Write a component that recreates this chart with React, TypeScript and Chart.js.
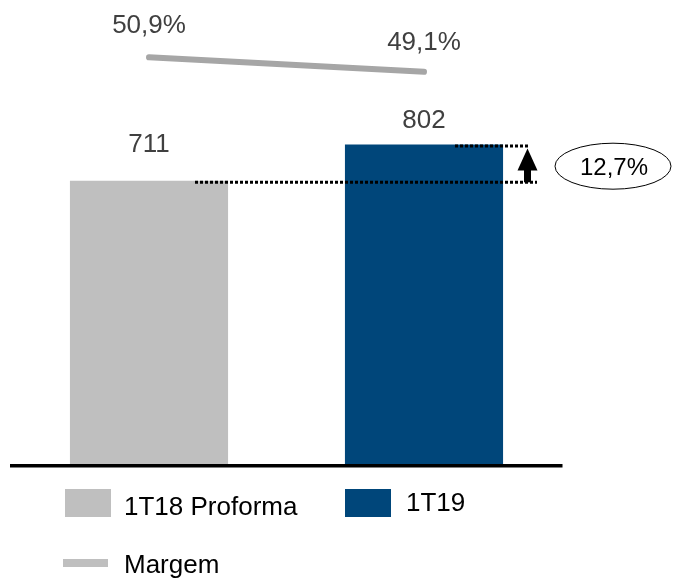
import React, { useEffect, useRef } from "react";
import { Chart, registerables } from "chart.js";

Chart.register(...registerables);

const categories = ["1T18 Proforma", "1T19"];
const revenueValues = [711, 802];
const marginValues = [50.9, 49.1];
const seriesLabels = ["1T18 Proforma", "1T19", "Margem"];
const growthLabel = "12,7%";

const GRAY = "#bfbfbf";
const NAVY = "#00467a";
const LINE_GRAY = "#a6a6a6";
const FONT = '"Liberation Sans", Arial, sans-serif';

const fmtNum = (v: number) => String(v);
const fmtPct = (v: number) => v.toFixed(1).replace(".", ",") + "%";

const annotations = {
  id: "annotations",
  afterDatasetsDraw(chart: any) {
    const ctx = chart.ctx as CanvasRenderingContext2D;
    const area = chart.chartArea;
    const bars = chart.getDatasetMeta(0).data;
    const pts = chart.getDatasetMeta(1).data;
    ctx.save();

    // axis baseline
    ctx.fillStyle = "#000";
    ctx.fillRect(10, area.bottom, area.right - 10 + 1, 3.5);

    // bar value labels
    ctx.font = `26px ${FONT}`;
    ctx.fillStyle = "#404040";
    ctx.textAlign = "center";
    ctx.textBaseline = "alphabetic";
    const barGap = [29, 17];
    bars.forEach((b: any, i: number) => {
      ctx.fillText(fmtNum(revenueValues[i]), b.x, b.y - barGap[i]);
    });
    const ptGap = [24, 22];
    pts.forEach((p: any, i: number) => {
      ctx.fillText(fmtPct(marginValues[i]), p.x, p.y - ptGap[i]);
    });

    // dotted guide lines
    const b0 = bars[0];
    const b1 = bars[1];
    ctx.strokeStyle = "#000";
    ctx.lineWidth = 3;
    ctx.setLineDash([3, 2]);
    ctx.beginPath();
    ctx.moveTo(b0.x + 46, b0.y + 1.5);
    ctx.lineTo(b1.x + 113, b0.y + 1.5);
    ctx.moveTo(b1.x + 31, b1.y + 1.5);
    ctx.lineTo(b1.x + 105, b1.y + 1.5);
    ctx.stroke();
    ctx.setLineDash([]);

    // arrow
    const ax = b1.x + 103.5;
    ctx.fillStyle = "#000";
    ctx.fillRect(ax - 3.5, b1.y + 24, 7, b0.y + 1.5 - (b1.y + 24));
    ctx.beginPath();
    ctx.moveTo(ax, b1.y + 4);
    ctx.lineTo(ax - 10, b1.y + 26);
    ctx.lineTo(ax + 10, b1.y + 26);
    ctx.closePath();
    ctx.fill();

    // ellipse with growth
    const ex = b1.x + 189;
    const ey = (b0.y + b1.y) / 2 + 3.5;
    ctx.lineWidth = 1;
    ctx.beginPath();
    ctx.ellipse(ex, ey, 58, 23, 0, 0, Math.PI * 2);
    ctx.stroke();
    ctx.font = `24px ${FONT}`;
    ctx.fillStyle = "#000";
    ctx.fillText(growthLabel, ex + 1, ey + 9);

    // legend
    ctx.textAlign = "left";
    ctx.font = `26px ${FONT}`;
    ctx.fillStyle = GRAY;
    ctx.fillRect(65, 489, 46, 28);
    ctx.fillStyle = NAVY;
    ctx.fillRect(345, 489, 46, 28);
    ctx.fillStyle = GRAY;
    ctx.fillRect(63, 559, 45, 8);
    ctx.fillStyle = "#000";
    ctx.fillText(seriesLabels[0], 124, 515);
    ctx.fillText(seriesLabels[1], 406, 511);
    ctx.fillText(seriesLabels[2], 124, 573);

    ctx.restore();
  },
};

export default function App() {
  const ref = useRef<HTMLCanvasElement | null>(null);
  useEffect(() => {
    if (!ref.current) return;
    const chart = new Chart(ref.current, {
      type: "bar",
      data: {
        labels: categories,
        datasets: [
          {
            type: "bar",
            label: "Receita",
            data: revenueValues,
            backgroundColor: [GRAY, NAVY],
            barPercentage: 0.575,
            categoryPercentage: 1,
            yAxisID: "y",
            order: 2,
          },
          {
            type: "line",
            label: seriesLabels[2],
            data: marginValues,
            borderColor: LINE_GRAY,
            borderWidth: 6,
            borderCapStyle: "round",
            pointRadius: 0,
            fill: false,
            tension: 0,
            yAxisID: "y1",
            order: 1,
          },
        ],
      } as any,
      options: {
        responsive: false,
        animation: false,
        devicePixelRatio: 1,
        layout: { padding: { left: 11.5, right: 111.5, top: 0, bottom: 115 } },
        plugins: { legend: { display: false }, tooltip: { enabled: false } },
        scales: {
          x: { display: false, offset: true },
          y: { display: false, min: 0, max: 1165 },
          y1: { display: false, min: 0.5, max: 58 },
        },
      },
      plugins: [annotations],
    });
    return () => chart.destroy();
  }, []);
  return (
    <div style={{ position: "absolute", left: 0, top: 0, width: 673, height: 579, background: "#fff" }}>
      <canvas ref={ref} width={673} height={579} />
    </div>
  );
}
